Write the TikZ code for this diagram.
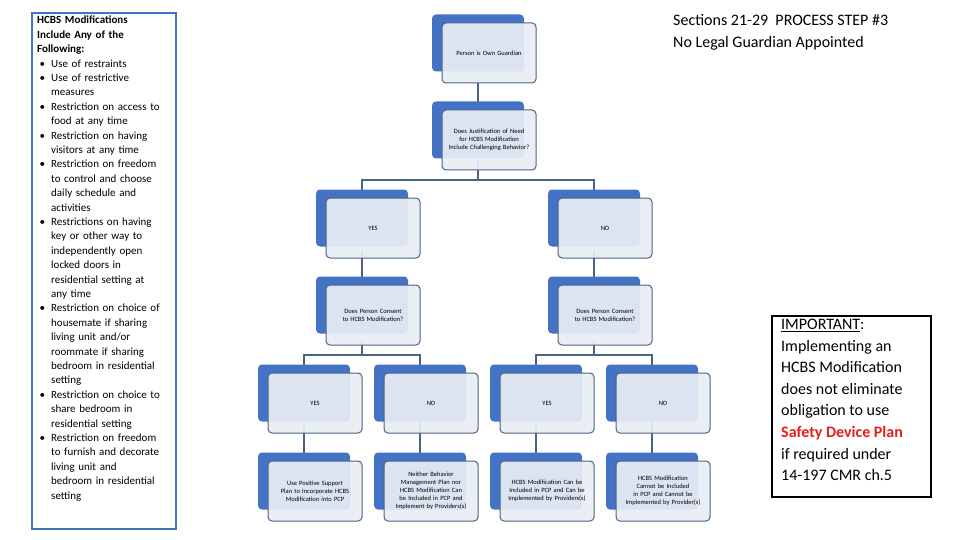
\documentclass[tikz,border=0pt]{standalone}
\usepackage{fontspec}
\setmainfont{Carlito}
\usepackage{enumitem}
\definecolor{bk}{HTML}{4472C4}
\definecolor{fr}{HTML}{E9EDF5}
\definecolor{ln}{HTML}{4A6484}
\definecolor{red1}{HTML}{E02020}
\hyphenpenalty=10000
\exhyphenpenalty=10000
\begin{document}
\begin{tikzpicture}[x=1pt,y=-1pt,
 back/.style={fill=bk,rounded corners=4pt,minimum width=92pt,minimum height=57pt,inner sep=0},
 front/.style={fill=fr,fill opacity=0.93,text opacity=1,draw=ln,line width=1pt,rounded corners=4pt,minimum width=94pt,minimum height=60pt,text width=82pt,align=center,font=\fontsize{6.5}{8}\selectfont,inner sep=0},
 conn/.style={draw=ln,line width=1.3pt}]
\useasboundingbox (0,0) rectangle (960,540);
\fill[white] (0,0) rectangle (960,540);
\draw[conn] (478,80) -- (478,108);
\draw[conn] (478,160) -- (478,180);
\draw[conn] (362,190) -- (362,180) -- (594,180) -- (594,190);
\draw[conn] (362,250) -- (362,282);
\draw[conn] (594,250) -- (594,282);
\draw[conn] (362,340) -- (362,355);
\draw[conn] (304,365) -- (304,355) -- (420,355) -- (420,365);
\draw[conn] (594,340) -- (594,355);
\draw[conn] (536,365) -- (536,355) -- (652,355) -- (652,365);
\foreach \x in {304,420,536,652}
  \draw[conn] (\x,420) -- (\x,458);
\newcommand{\bx}[4]{%
 \node[back] (#1b) at (#2,#3) {};
 \node[front] (#1) at (#2+11,#3+10) {#4};}
\bx{n1}{478}{43}{Person is Own Guardian}
\bx{n2}{478}{130}{Does Justification of Need for HCBS Modification Include Challenging Behavior?}
\bx{y1}{362}{218}{YES}
\bx{o1}{594}{218}{NO}
\bx{c1}{362}{305}{Does Person Consent to HCBS Modification?}
\bx{c2}{594}{305}{Does Person Consent to HCBS Modification?}
\bx{y2}{304}{393}{YES}
\bx{o2}{420}{393}{NO}
\bx{y3}{536}{393}{YES}
\bx{o3}{652}{393}{NO}
\bx{r1}{304}{481}{Use Positive Support Plan to Incorporate HCBS Modification into PCP}
\bx{r2}{420}{481}{Neither Behavior Management Plan nor HCBS Modification Can be Included in PCP and Implement by Providers(s)}
\bx{r3}{536}{481}{HCBS Modification Can be Included in PCP and Can be Implemented by Providers(s)}
\bx{r4}{652}{481}{HCBS Modification Cannot be Included in PCP and Cannot be Implemented by Provider(s)}
\node[draw=bk,line width=2pt,anchor=north west,minimum width=144pt,minimum height=516pt,inner sep=0] (lb) at (31,12) {};
\node[anchor=north west,text width=124pt,inner sep=0,font=\fontsize{11}{14.4}\selectfont,align=left] (lt) at (37,16) {%
\textbf{HCBS Modifications Include Any of the Following:}
\begin{itemize}[leftmargin=14pt,label=\textbullet,itemsep=0pt,parsep=0pt,topsep=0pt,labelsep=6pt]
\item Use of restraints
\item Use of restrictive measures
\item Restriction on access to food at any time
\item Restriction on having visitors at any time
\item Restriction on freedom to control and choose daily schedule and activities
\item Restrictions on having key or other way to independently open locked doors in residential setting at any time
\item Restriction on choice of housemate if sharing living unit and/or roommate if sharing bedroom in residential setting
\item Restriction on choice to share bedroom in residential setting
\item Restriction on freedom to furnish and decorate living unit and bedroom in residential setting
\end{itemize}};
\node[anchor=north west,inner sep=0,align=left,font=\fontsize{16}{22}\selectfont] (ti) at (673,14) {Sections 21-29\ \ PROCESS STEP \#3\\No Legal Guardian Appointed};
\node[draw=black,line width=1.5pt,anchor=north west,minimum width=159pt,minimum height=181pt,inner sep=0] (ib) at (771,315) {};
\node[anchor=north west,inner sep=0,align=left,font=\fontsize{16}{21.6}\selectfont] (it) at (781,319) {\underline{IMPORTANT}:\\Implementing an\\HCBS Modification\\does not eliminate\\obligation to use\\\textcolor{red1}{\textbf{Safety Device Plan}}\\if required under\\14-197 CMR ch.5};
\end{tikzpicture}
\end{document}
